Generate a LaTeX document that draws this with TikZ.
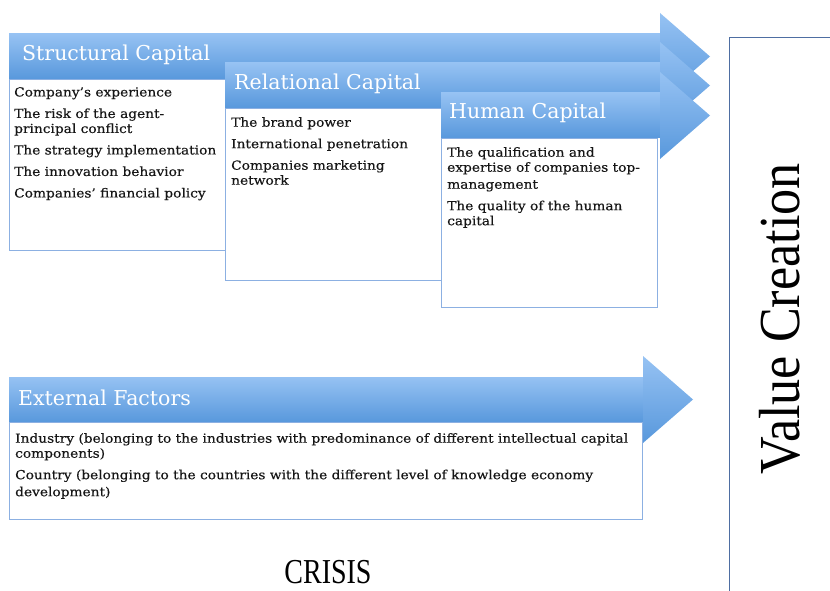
\documentclass[tikz,border=0pt]{standalone}
\usepackage{fontspec}
\setmainfont{DejaVu Serif}
\newfontfamily\itemserif[FakeStretch=1.1,FakeBold=0.3]{DejaVu Serif}
\newfontfamily\narrowserif[FakeStretch=0.8]{Liberation Serif}
\newfontfamily\valueserif[FakeStretch=0.9]{Liberation Serif}
\usetikzlibrary{positioning}

\definecolor{arrowtop}{RGB}{150,194,243}
\definecolor{arrowbot}{RGB}{88,152,220}
\definecolor{boxline}{RGB}{140,176,226}
\definecolor{valueline}{RGB}{78,110,162}
\definecolor{itemgray}{RGB}{22,22,22}

% body from x=#1 (top edge at y=#2), head starting at x=#3
\newcommand{\capitalarrow}[3]{%
  \path[arrowfill] (#1,#2) rectangle (#3,#2+45);
  \path[arrowfill] (#3,#2-21) -- (#3+50,#2+22.5) -- (#3,#2+66) -- cycle;}

\begin{document}
\begin{tikzpicture}[x=1pt,y=-1pt,
    arrowfill/.style={top color=arrowtop,bottom color=arrowbot},
    itembox/.style={draw=boxline,line width=1.2pt,fill=white,anchor=north west,inner sep=0pt},
    itemtext/.style={anchor=north west,align=left,inner sep=0pt,text=itemgray,
                     font=\itemserif\fontsize{12.5}{15}\selectfont},
    heading/.style={anchor=west,inner sep=0pt,text=white,font=\fontsize{20.5}{20.5}\selectfont}]

    \useasboundingbox (0,0) rectangle (830,591);

    % structural capital
    \capitalarrow{9}{34}{660}
    \node[heading] (schead) at (22,55) {Structural Capital};
    \node[itembox,minimum width=216pt,minimum height=171pt] (scbox) at (9,79) {};
    \node[itemtext] (sctext) at ([xshift=5pt,yshift=-8pt]scbox.north west)
        {Company’s experience\\[6.5pt]
         The risk of the agent-\\principal conflict\\[6.5pt]
         The strategy implementation\\[6.5pt]
         The innovation behavior\\[6.5pt]
         Companies’ financial policy};

    % relational capital
    \capitalarrow{225}{63}{660}
    \node[heading] (rchead) at (234,84) {Relational Capital};
    \node[itembox,minimum width=216pt,minimum height=172pt] (rcbox) at (225,108) {};
    \node[itemtext] (rctext) at ([xshift=6pt,yshift=-9pt]rcbox.north west)
        {The brand power\\[6.5pt]
         International penetration\\[6.5pt]
         Companies marketing\\network};

    % human capital
    \capitalarrow{441}{93}{660}
    \node[heading] (hchead) at (449,113) {Human Capital};
    \node[itembox,minimum width=216pt,minimum height=169pt] (hcbox) at (441,138) {};
    \node[itemtext] (hctext) at ([xshift=6pt,yshift=-9pt]hcbox.north west)
        {The qualification and\\expertise of companies top-\\[2pt]
         management\\[6.5pt]
         The quality of the human\\capital};

    % external factors
    \capitalarrow{9}{377}{643}
    \node[heading] (efhead) at (18,398) {External Factors};
    \node[itembox,minimum width=633pt,minimum height=97pt] (efbox) at (9,422) {};
    \node[itemtext] (eftext) at ([xshift=6pt,yshift=-11pt]efbox.north west)
        {Industry (belonging to the industries with predominance of different intellectual capital\\
         components)\\[6.5pt]
         Country (belonging to the countries with the different level of knowledge economy\\[2pt]
         development)};

    % value creation
    \node[draw=valueline,line width=1pt,anchor=north west,inner sep=0pt,
          minimum width=120pt,minimum height=580pt] (vcbox) at (729,37) {};
    \node[rotate=90,inner sep=0pt,font=\valueserif\fontsize{58}{58}\selectfont] (vctext)
        at (780,319) {Value Creation};

    \node[inner sep=0pt,font=\narrowserif\fontsize{35}{35}\selectfont] (crisis) at (328,572) {CRISIS};
\end{tikzpicture}
\end{document}
